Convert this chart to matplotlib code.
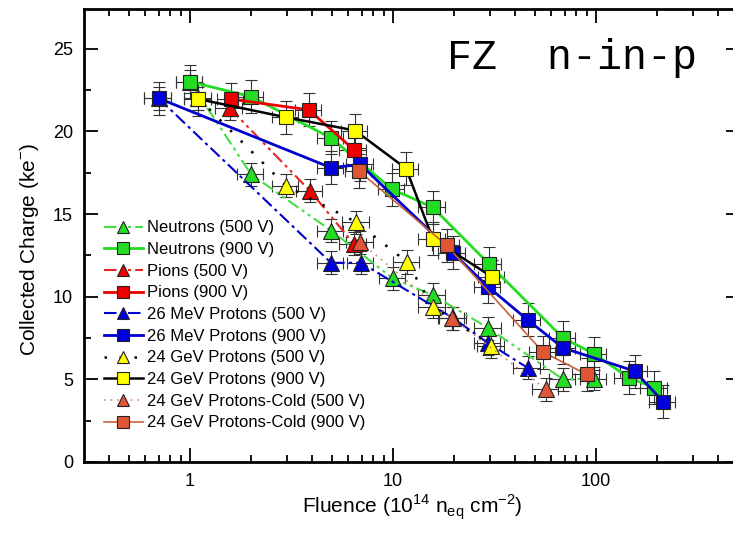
import matplotlib.pyplot as plt
import numpy as np
from matplotlib.ticker import LogLocator, FixedLocator, MultipleLocator, NullFormatter

plt.rcParams['font.family'] = ['Liberation Sans', 'DejaVu Sans']
plt.rcParams['mathtext.fontset'] = 'custom'
plt.rcParams['mathtext.rm'] = 'Liberation Sans'

# data (fluence in 1e14 neq/cm2, charge in ke-)
neu500_x = [1.0, 2.0, 4.95, 10.0, 15.7, 29.5, 68.8, 97.6]
neu500_y = [23.0, 17.4, 14.0, 11.1, 10.1, 8.1, 5.0, 5.05]
neu900_x = [1.0, 2.0, 4.95, 9.9, 15.7, 29.6, 68.8, 97.6, 145, 194]
neu900_y = [23.0, 22.1, 19.6, 16.5, 15.4, 12.0, 7.5, 6.55, 5.1, 4.5]

pi500_x = [1.57, 3.9, 6.4]
pi500_y = [21.4, 16.4, 13.2]
pi900_x = [1.59, 3.85, 6.4]
pi900_y = [21.95, 21.3, 18.9]

p26_500_x = [0.7, 4.95, 6.95, 19.8, 29.4, 46]
p26_500_y = [22.0, 12.05, 12.05, 8.7, 7.2, 5.7]
p26_900_x = [0.7, 4.95, 6.9, 19.7, 29.4, 46, 68.8, 155, 214]
p26_900_y = [22.0, 17.8, 18.0, 12.65, 10.6, 8.6, 6.9, 5.5, 3.65]

p24_500_x = [1.1, 2.97, 6.6, 11.7, 15.7, 30.5]
p24_500_y = [22.0, 16.7, 14.5, 12.1, 9.4, 7.0]
p24_900_x = [1.1, 2.97, 6.5, 11.6, 15.7, 30.7]
p24_900_y = [21.95, 20.85, 20.05, 17.75, 13.5, 11.2]

cold500_x = [6.9, 19.5, 56.7]
cold500_y = [13.3, 8.7, 4.4]
cold900_x = [6.8, 18.4, 54.8, 90]
cold900_y = [17.6, 13.1, 6.65, 5.3]

labels = ['Neutrons (500 V)', 'Neutrons (900 V)', 'Pions (500 V)', 'Pions (900 V)',
          '26 MeV Protons (500 V)', '26 MeV Protons (900 V)',
          '24 GeV Protons (500 V)', '24 GeV Protons (900 V)',
          '24 GeV Protons-Cold (500 V)', '24 GeV Protons-Cold (900 V)']

x_rel_err = 0.15
y_err_500 = 0.7
y_err_900 = 1.0

dashdotdot = (0, (6, 2, 1.5, 2, 1.5, 2))
green, red, blue, yellow, cold = '#22dd22', '#ee0000', '#0000dd', '#ffff00', '#e05535'
series = [
    (neu500_x, neu500_y, '^', green, '#44dd44', dashdotdot, 1.5, y_err_500),
    (neu900_x, neu900_y, 's', green, '#22dd22', '-', 2.0, y_err_900),
    (pi500_x, pi500_y, '^', red, '#ee2222', dashdotdot, 1.5, y_err_500),
    (pi900_x, pi900_y, 's', red, '#ee0000', '-', 2.0, y_err_900),
    (p26_500_x, p26_500_y, '^', blue, '#0000cc', (0, (6, 2, 1.5, 2)), 1.5, y_err_500),
    (p26_900_x, p26_900_y, 's', blue, '#0000cc', '-', 2.0, y_err_900),
    (p24_500_x, p24_500_y, '^', yellow, 'black', (0, (1, 5)), 1.8, y_err_500),
    (p24_900_x, p24_900_y, 's', yellow, 'black', '-', 1.8, y_err_900),
    (cold500_x, cold500_y, '^', cold, '#e08070', (0, (1, 3)), 1.2, y_err_500),
    (cold900_x, cold900_y, 's', cold, '#c8603c', '-', 1.2, y_err_900),
]

fig = plt.figure(figsize=(7.33, 5.33), dpi=100)
ax = fig.add_axes([84 / 733, 71 / 533, 656 / 733, 453 / 533])

for (x, y, mk, fc, lc, ls, lw, ye), lab in zip(series, labels):
    x = np.array(x)
    ax.errorbar(x, y, yerr=ye, xerr=[x * x_rel_err, x * x_rel_err], fmt='none',
                ecolor='#333333', elinewidth=0.8, capsize=4, capthick=0.8, zorder=1)
    ms = 11 if mk == '^' else 10
    ax.plot(x, y, marker=mk, ms=ms, mfc=fc, mec='#222222', mew=0.8,
            color=lc, ls=ls, lw=lw, label=lab, zorder=3)

ax.set_xscale('log')
ax.set_xlim(10 ** (-106 / 203), 10 ** (550 / 203))
ax.set_ylim(0, 27.4)
ax.xaxis.set_major_locator(FixedLocator([1, 10, 100]))
ax.xaxis.set_major_formatter(plt.FuncFormatter(lambda v, p: '%g' % v))
ax.xaxis.set_minor_locator(LogLocator(base=10, subs=np.arange(2, 10)))
ax.xaxis.set_minor_formatter(NullFormatter())
ax.yaxis.set_major_locator(MultipleLocator(5))
ax.yaxis.set_minor_locator(MultipleLocator(2.5))
ax.tick_params(which='both', direction='in', top=True, right=True, labelsize=13, width=1.3)
ax.tick_params(which='major', length=10, pad=8)
ax.tick_params(which='minor', length=5)
for s in ax.spines.values():
    s.set_linewidth(2)

ax.set_xlabel(r'Fluence (10$^{14}$ n$_{\rm eq}$ cm$^{-2}$)', fontsize=15, labelpad=2)
ax.set_ylabel(r'Collected Charge (ke$^{-}$)', fontsize=15)
ax.yaxis.set_label_coords(-0.066, 0.47)

ax.text(0.553, 0.868, 'FZ  n-in-p', transform=ax.transAxes, fontsize=30,
        family='Liberation Mono', va='baseline', ha='left')

ax.legend(loc='upper left', bbox_to_anchor=(0.02, 0.548), frameon=False,
          fontsize=12, handlelength=2.35, labelspacing=0.4, markerscale=0.8,
          handletextpad=0.25, borderaxespad=0)

fig.savefig('out.png', dpi=100)
